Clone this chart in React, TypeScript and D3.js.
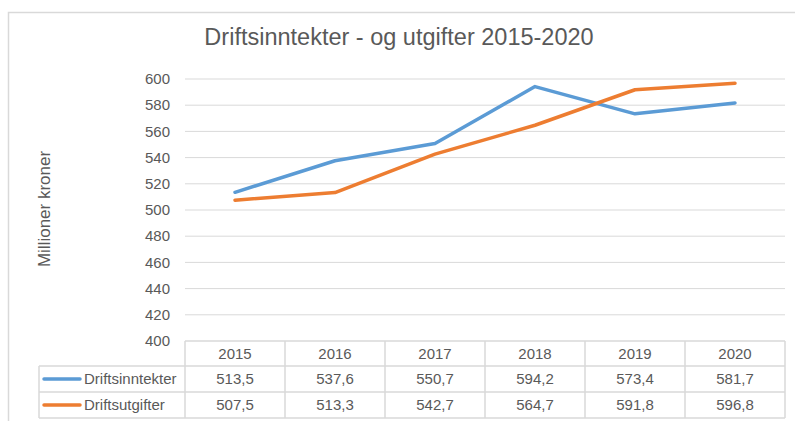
import React from "react";
import * as d3 from "d3";

const years = ["2015", "2016", "2017", "2018", "2019", "2020"];
const inntekter = [513.5, 537.6, 550.7, 594.2, 573.4, 581.7];
const utgifter = [507.5, 513.3, 542.7, 564.7, 591.8, 596.8];
const yTicks = [400, 420, 440, 460, 480, 500, 520, 540, 560, 580, 600];
const seriesNames = ["Driftsinntekter", "Driftsutgifter"];
const colors = ["#5b9bd5", "#ed7d31"];
const fmt = (v: number) => v.toFixed(1).replace(".", ",");

export default function App() {
  const W = 795, H = 421;
  const left = 185, right = 785, top = 79, bottom = 341;
  const x = d3.scaleBand<string>().domain(years).range([left, right]);
  const y = d3.scaleLinear().domain([400, 600]).range([bottom, top]);
  const line = d3
    .line<number>()
    .x((_, i) => (x(years[i]) as number) + x.bandwidth() / 2)
    .y((d) => y(d));
  const rows = [bottom, bottom + 25, bottom + 51, bottom + 77];
  const font = "Liberation Sans, Arial, sans-serif";
  const txt = "#595959";
  const grid = "#d9d9d9";
  const fs = 15;
  const data = [inntekter, utgifter];
  return (
    <svg width={W} height={H} style={{ position: "absolute", left: 0, top: 0 }} fontFamily={font}>
      <rect x={0} y={0} width={W} height={H} fill="#fff" />
      <path d={`M8.5,${H} V12.5 H${W}`} fill="none" stroke="#d9d9d9" strokeWidth={1.5} />
      <text x={399} y={45} textAnchor="middle" fontSize={23.5} fill={txt}>
        Driftsinntekter - og utgifter 2015-2020
      </text>
      <text
        transform={`translate(50,209) rotate(-90)`}
        textAnchor="middle"
        fontSize={17}
        fill={txt}
      >
        Millioner kroner
      </text>
      {yTicks.map((t) => (
        <g key={t}>
          {t !== 400 && (
            <line x1={left} x2={right} y1={y(t)} y2={y(t)} stroke={grid} strokeWidth={1} />
          )}
          <text x={170} y={y(t)} dy="0.35em" textAnchor="end" fontSize={fs} fill={txt}>
            {t}
          </text>
        </g>
      ))}
      {data.map((d, i) => (
        <path
          key={i}
          d={line(d) as string}
          fill="none"
          stroke={colors[i]}
          strokeWidth={3.5}
          strokeLinejoin="round"
          strokeLinecap="round"
        />
      ))}
      <g stroke={grid} strokeWidth={1.5} fill="none">
        <line x1={left} x2={right} y1={rows[0]} y2={rows[0]} />
        <line x1={39} x2={right} y1={rows[1]} y2={rows[1]} />
        <line x1={39} x2={right} y1={rows[2]} y2={rows[2]} />
        <line x1={39} x2={right} y1={rows[3]} y2={rows[3]} />
        <line x1={39} x2={39} y1={rows[1]} y2={rows[3]} />
        {years.map((yr) => (
          <line key={yr} x1={x(yr)} x2={x(yr)} y1={rows[0]} y2={rows[3]} />
        ))}
        <line x1={right} x2={right} y1={rows[0]} y2={rows[3]} />
      </g>
      {years.map((yr) => (
        <text
          key={yr}
          x={(x(yr) as number) + x.bandwidth() / 2}
          y={(rows[0] + rows[1]) / 2}
          dy="0.35em"
          textAnchor="middle"
          fontSize={fs}
          fill={txt}
        >
          {yr}
        </text>
      ))}
      {data.map((d, i) => (
        <g key={i}>
          <line
            x1={44}
            x2={80}
            y1={(rows[i + 1] + rows[i + 2]) / 2}
            y2={(rows[i + 1] + rows[i + 2]) / 2}
            stroke={colors[i]}
            strokeWidth={3.5}
            strokeLinecap="round"
          />
          <text
            x={84}
            y={(rows[i + 1] + rows[i + 2]) / 2}
            dy="0.35em"
            fontSize={fs}
            fill={txt}
          >
            {seriesNames[i]}
          </text>
          {d.map((v, j) => (
            <text
              key={j}
              x={(x(years[j]) as number) + x.bandwidth() / 2}
              y={(rows[i + 1] + rows[i + 2]) / 2}
              dy="0.35em"
              textAnchor="middle"
              fontSize={fs}
              fill={txt}
            >
              {fmt(v)}
            </text>
          ))}
        </g>
      ))}
    </svg>
  );
}
